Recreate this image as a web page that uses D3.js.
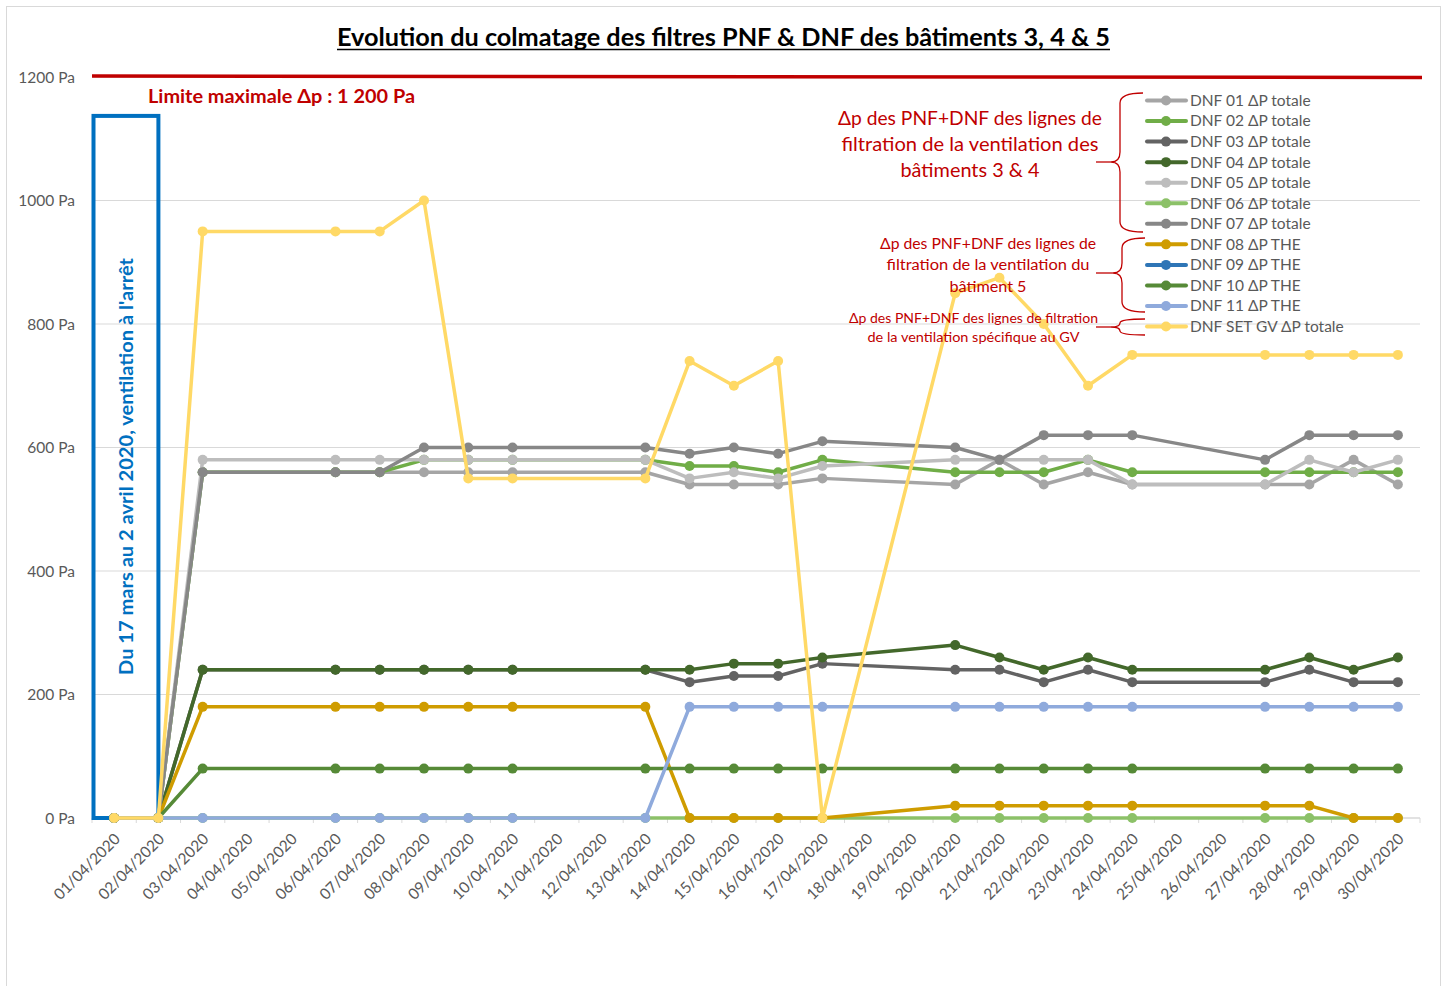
<!DOCTYPE html>
<html><head><meta charset="utf-8">
<script src="https://cdn.jsdelivr.net/npm/d3@7"></script>
<style>
html,body{margin:0;padding:0;background:#fff;}
svg{display:block;font-family:Lato,"Open Sans",sans-serif;}
</style></head>
<body><svg id="chart" width="1447" height="986"></svg>
<script>
// ---------- data ----------
const dates = ["01/04/2020","02/04/2020","03/04/2020","04/04/2020","05/04/2020","06/04/2020","07/04/2020","08/04/2020","09/04/2020","10/04/2020","11/04/2020","12/04/2020","13/04/2020","14/04/2020","15/04/2020","16/04/2020","17/04/2020","18/04/2020","19/04/2020","20/04/2020","21/04/2020","22/04/2020","23/04/2020","24/04/2020","25/04/2020","26/04/2020","27/04/2020","28/04/2020","29/04/2020","30/04/2020"];
const _ = null;
const dnf01 = [0,0,560,_,_,560,560,560,560,560,_,_,560,540,540,540,550,_,_,540,580,540,560,540,_,_,540,540,580,540];
const dnf02 = [0,0,560,_,_,560,560,580,580,580,_,_,580,570,570,560,580,_,_,560,560,560,580,560,_,_,560,560,560,560];
const dnf03 = [0,0,240,_,_,240,240,240,240,240,_,_,240,220,230,230,250,_,_,240,240,220,240,220,_,_,220,240,220,220];
const dnf04 = [0,0,240,_,_,240,240,240,240,240,_,_,240,240,250,250,260,_,_,280,260,240,260,240,_,_,240,260,240,260];
const dnf05 = [0,0,580,_,_,580,580,580,580,580,_,_,580,550,560,550,570,_,_,580,580,580,580,540,_,_,540,580,560,580];
const dnf06 = [0,0,0,_,_,0,0,0,0,0,_,_,0,0,0,0,0,_,_,0,0,0,0,0,_,_,0,0,0,0];
const dnf07 = [0,0,560,_,_,560,560,600,600,600,_,_,600,590,600,590,610,_,_,600,580,620,620,620,_,_,580,620,620,620];
const dnf08 = [0,0,180,_,_,180,180,180,180,180,_,_,180,0,0,0,0,_,_,20,20,20,20,20,_,_,20,20,0,0];
const dnf09 = [_,_,_,_,_,_,_,_,_,_,_,_,_,_,_,_,_,_,_,_,_,_,_,_,_,_,_,_,_,_];
const dnf10 = [0,0,80,_,_,80,80,80,80,80,_,_,80,80,80,80,80,_,_,80,80,80,80,80,_,_,80,80,80,80];
const dnf11 = [0,0,0,_,_,0,0,0,0,0,_,_,0,180,180,180,180,_,_,180,180,180,180,180,_,_,180,180,180,180];
const dnfSetGV = [0,0,950,_,_,950,950,1000,550,550,_,_,550,740,700,740,0,_,_,850,875,800,700,750,_,_,750,750,750,750];

const seriesNames = ["DNF 01 ΔP totale","DNF 02 ΔP totale","DNF 03 ΔP totale","DNF 04 ΔP totale","DNF 05 ΔP totale","DNF 06 ΔP totale","DNF 07 ΔP totale","DNF 08 ΔP THE","DNF 09 ΔP THE","DNF 10 ΔP THE","DNF 11 ΔP THE","DNF SET GV ΔP totale"];
const seriesValues = [dnf01,dnf02,dnf03,dnf04,dnf05,dnf06,dnf07,dnf08,dnf09,dnf10,dnf11,dnfSetGV];
const seriesColors = ["#a5a5a5","#70ad47","#636363","#43682b","#bdbdbd","#8cc168","#878787","#cf9c00","#2e75b6","#568a37","#8faadc","#ffd966"];

const yTicks = [0,200,400,600,800,1000,1200];
const yTickLabels = ["0 Pa","200 Pa","400 Pa","600 Pa","800 Pa","1000 Pa","1200 Pa"];
const limitValue = 1200;
const stopBoxTop = 1137;

const title = "Evolution du colmatage des filtres PNF & DNF des bâtiments 3, 4 & 5";
const limitText = "Limite maximale Δp : 1 200 Pa";
const stopText = "Du 17 mars au 2 avril 2020, ventilation à l'arrêt";
const note1 = ["Δp des PNF+DNF des lignes de","filtration de la ventilation des","bâtiments 3 & 4"];
const note2 = ["Δp des PNF+DNF des lignes de","filtration de la ventilation du","bâtiment 5"];
const note3 = ["Δp des PNF+DNF des lignes de filtration","de la ventilation spécifique au GV"];

// ---------- layout ----------
const svg = d3.select("#chart");
const L = 92, R = 1420, T = 77, B = 818;
const x = d3.scaleBand().domain(dates).range([L, R]).padding(0);
const cx = d => x(d) + x.bandwidth() / 2;
const y = d3.scaleLinear().domain([0, 1200]).range([B, T]);
const RED = "#c00000", BLUE = "#0070c0", TXT = "#595959";

// outer frame
svg.append("rect").attr("x",6.5).attr("y",6.5).attr("width",1434).attr("height",990)
  .attr("fill","none").attr("stroke","#d9d9d9").attr("stroke-width",1);

// title
svg.append("text").attr("x",723.5).attr("y",46).attr("text-anchor","middle")
  .attr("font-size",24).attr("font-weight","bold").attr("fill","#000")
  .attr("textLength",773).attr("lengthAdjust","spacingAndGlyphs")
  .text(title);
svg.append("line").attr("x1",337).attr("x2",1110).attr("y1",49.5).attr("y2",49.5)
  .attr("stroke","#000").attr("stroke-width",1.5);

// gridlines
svg.append("g").selectAll("line").data(yTicks.filter(v => v > 0)).join("line")
  .attr("x1",L).attr("x2",R).attr("y1",d=>y(d)).attr("y2",d=>y(d))
  .attr("stroke","#d9d9d9").attr("stroke-width",1);

// y axis labels
const yAxis = d3.axisLeft(y).tickValues(yTicks).tickSize(0).tickPadding(0)
  .tickFormat((d,i) => yTickLabels[i]);
const gy = svg.append("g").attr("transform","translate(75,0)").call(yAxis);
gy.select(".domain").remove();
gy.selectAll("text").attr("font-size",15.5).attr("fill",TXT).attr("font-family","Lato,sans-serif").attr("dy","0.35em");

// x axis line + boundary ticks
svg.append("line").attr("x1",L).attr("x2",R).attr("y1",B).attr("y2",B).attr("stroke","#d9d9d9").attr("stroke-width",1.5);
svg.append("g").selectAll("line").data(dates.map(d=>x(d)).concat([R])).join("line")
  .attr("x1",d=>d).attr("x2",d=>d).attr("y1",B).attr("y2",B+5).attr("stroke","#d9d9d9").attr("stroke-width",1);
const xAxis = d3.axisBottom(x).tickSize(0).tickPadding(0);
const gx = svg.append("g").attr("transform",`translate(0,${B})`).call(xAxis);
gx.select(".domain").remove();
gx.selectAll("text").attr("font-size",15.5).attr("fill",TXT).attr("font-family","Lato,sans-serif")
  .attr("text-anchor","end").attr("dy",0).attr("y",0)
  .attr("transform","translate(7,22) rotate(-45)");

// red limit line
svg.append("line").attr("x1",L).attr("x2",R+2).attr("y1",y(limitValue)-1).attr("y2",y(limitValue)+0.5)
  .attr("stroke",RED).attr("stroke-width",3.5);
svg.append("text").attr("x",148).attr("y",103).attr("font-size",18).attr("font-weight","bold")
  .attr("fill",RED).attr("textLength",267).attr("lengthAdjust","spacingAndGlyphs").text(limitText);

// stop box
const bx0 = L + 1.5, bx1 = cx(dates[1]);
svg.append("rect").attr("x",bx0).attr("y",y(stopBoxTop)).attr("width",bx1-bx0).attr("height",B-y(stopBoxTop))
  .attr("fill","none").attr("stroke",BLUE).attr("stroke-width",4);
svg.append("text").attr("transform",`translate(133,466.5) rotate(-90)`).attr("text-anchor","middle")
  .attr("font-size",18).attr("font-weight","bold").attr("fill",BLUE)
  .attr("textLength",417).attr("lengthAdjust","spacingAndGlyphs").text(stopText);

// series
const line = d3.line().x(d=>cx(d.date)).y(d=>y(d.v));
seriesValues.forEach((vals,i) => {
  const pts = dates.map((d,j)=>({date:d, v:vals[j]})).filter(p => p.v !== null);
  if (!pts.length) return;
  const g = svg.append("g");
  g.append("path").datum(pts).attr("d",line).attr("fill","none")
    .attr("stroke",seriesColors[i]).attr("stroke-width",3.5)
    .attr("stroke-linejoin","round").attr("stroke-linecap","round");
  g.selectAll("circle").data(pts).join("circle")
    .attr("cx",d=>cx(d.date)).attr("cy",d=>y(d.v)).attr("r",5).attr("fill",seriesColors[i]);
});

// legend
const lg = svg.append("g");
seriesNames.forEach((name,i) => {
  const ly = 100.5 + i*20.55;
  lg.append("line").attr("x1",1147).attr("x2",1186).attr("y1",ly).attr("y2",ly)
    .attr("stroke",seriesColors[i]).attr("stroke-width",4).attr("stroke-linecap","round");
  lg.append("circle").attr("cx",1166).attr("cy",ly).attr("r",5).attr("fill",seriesColors[i]);
  lg.append("text").attr("x",1190).attr("y",ly).attr("dy","0.35em").attr("font-size",15.5)
    .attr("fill",TXT).text(name);
});

// annotations
function note(lines, cxp, ys, size, widths){
  lines.forEach((t,i)=>{
    svg.append("text").attr("x",cxp).attr("y",ys[i]).attr("text-anchor","middle")
      .attr("font-size",size).attr("fill",RED)
      .attr("textLength",widths[i]).attr("lengthAdjust","spacingAndGlyphs").text(t);
  });
}
note(note1, 970, [125,151,177], 19, [264,257,139]);
note(note2, 988, [249,270,292], 15.5, [216,203,77]);
note(note3, 973.5, [323,342], 13.5, [249,212]);

function brace(xr, xc, yTop, yBot, yMid, xTip, xLine){
  const r = Math.min(10, (yMid - yTop) / 2, (yBot - yMid) / 2);
  const p = `M${xr},${yTop} Q${xc},${yTop} ${xc},${yTop+r} L${xc},${yMid-r} Q${xc},${yMid} ${xTip},${yMid} Q${xc},${yMid} ${xc},${yMid+r} L${xc},${yBot-r} Q${xc},${yBot} ${xr},${yBot}`;
  svg.append("path").attr("d",p).attr("fill","none").attr("stroke",RED).attr("stroke-width",1.3);
  svg.append("line").attr("x1",xLine).attr("x2",xTip).attr("y1",yMid).attr("y2",yMid).attr("stroke",RED).attr("stroke-width",1.3);
}
brace(1143,1120,93,232,162,1111,1096);
brace(1145,1122,238,312,273,1113,1096);
brace(1145,1120,319,335,327,1111,1096);
</script></body></html>
